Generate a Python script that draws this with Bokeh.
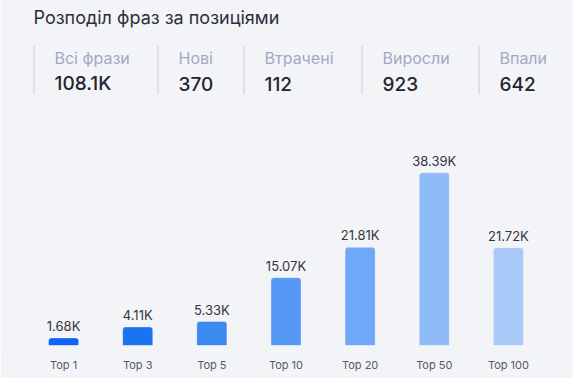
from bokeh.plotting import figure
from bokeh.models import Label, Range1d, FactorRange, ColumnDataSource, BoxAnnotation
from bokeh.embed import file_html
from bokeh.resources import INLINE

title_text = "Розподіл фраз за позиціями"
stat_names = ["Всі фрази", "Нові", "Втрачені", "Виросли", "Впали"]
stat_values = ["108.1K", "370", "112", "923", "642"]

categories = ["Top 1", "Top 3", "Top 5", "Top 10", "Top 20", "Top 50", "Top 100"]
values = [1680, 4110, 5330, 15070, 21810, 38390, 21720]
value_labels = ["1.68K", "4.11K", "5.33K", "15.07K", "21.81K", "38.39K", "21.72K"]
colors = ["#1062f8", "#1a74f0", "#3a8af0", "#5599f5", "#70a8f8", "#8fbbf8", "#a9c9f9"]

BG = "#f3f4f8"
W, H = 573, 378
BOTTOM, LEFT, RIGHT = 33, 0, 2
PX_PER_UNIT = 4.5 / 1000.0
ymax = (H - BOTTOM) / PX_PER_UNIT

p = figure(width=W, height=H,
           x_range=FactorRange(*categories, range_padding=0.351, range_padding_units="absolute"),
           y_range=Range1d(0, ymax),
           output_backend="svg", toolbar_location=None,
           min_border_left=LEFT, min_border_right=RIGHT,
           min_border_top=0, min_border_bottom=BOTTOM)
p.background_fill_color = BG
p.border_fill_color = BG
p.outline_line_color = None
p.xgrid.grid_line_color = None
p.ygrid.grid_line_color = None
p.yaxis.visible = False
p.xaxis.axis_line_color = None
p.xaxis.major_tick_line_color = None
p.xaxis.minor_tick_line_color = None
p.xaxis.major_tick_out = 0
p.xaxis.major_tick_in = 0
p.xaxis.minor_tick_out = 0
p.xaxis.axis_label_standoff = 0
p.xaxis.axis_label_text_font_size = "0px"
p.xaxis.major_label_text_font = "Inter"
p.xaxis.major_label_text_font_size = "11px"
p.xaxis.major_label_text_color = "#555a66"
p.xaxis.major_label_standoff = 12

src = ColumnDataSource(dict(cat=categories, val=values, lab=value_labels, col=colors))
p.vbar(x="cat", top="val", width=0.405, fill_color="col", line_color="white",
       line_alpha=0.3, line_width=1, border_radius=(3, 3, 0, 0), source=src)
p.text(x="cat", y="val", text="lab", source=src, text_align="center",
       text_baseline="bottom", y_offset=-4, text_font_size="13px",
       text_color="#333640", text_font={"value": "Inter"})

FRAME_BOTTOM_PAGE = H - BOTTOM
def sy(page_y):
    return FRAME_BOTTOM_PAGE - page_y

def sx(page_x):
    return page_x - LEFT

p.add_layout(Label(x=sx(33), y=sy(17), x_units="screen", y_units="screen", text=title_text,
                   text_font="Inter", text_font_size="18px", text_color="#2c2e3a",
                   text_baseline="middle"))
seps = [33, 157, 243, 361, 478]
for i, (n, v) in enumerate(zip(stat_names, stat_values)):
    x0 = sx(seps[i])
    p.add_layout(BoxAnnotation(left=x0, right=x0 + 1, top=sy(45), bottom=sy(94),
                               left_units="screen", right_units="screen",
                               top_units="screen", bottom_units="screen",
                               fill_color="#c9ccd8", fill_alpha=1, line_color=None))
    p.add_layout(Label(x=x0 + 21, y=sy(57), x_units="screen", y_units="screen", text=n,
                       text_font="Inter", text_font_size="16px", text_color="#a3a9c0",
                       text_baseline="middle"))
    p.add_layout(Label(x=x0 + 21, y=sy(83), x_units="screen", y_units="screen", text=v,
                       text_font="'Inter Medium', 'Inter SemiBold', Inter", text_font_size="19px",
                       text_color="#23252d", text_baseline="middle"))

open("out.html", "w").write(file_html(p, INLINE))
